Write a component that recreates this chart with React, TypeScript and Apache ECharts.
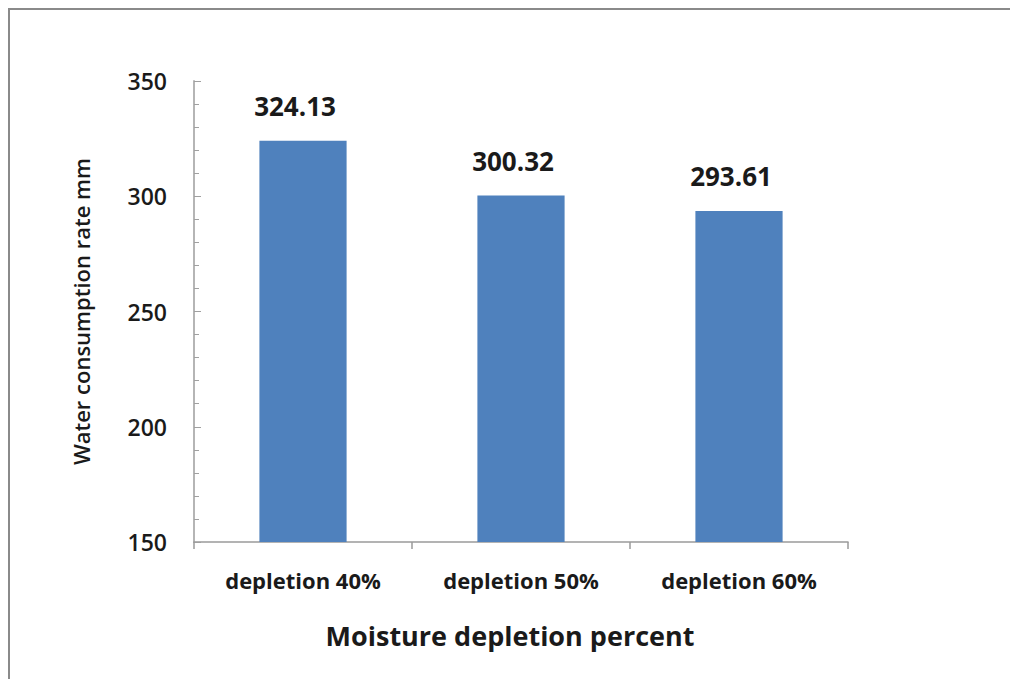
import React, { useEffect, useRef } from "react";
import * as echarts from "echarts";

const categories = ["depletion 40%", "depletion 50%", "depletion 60%"];
const values = [324.13, 300.32, 293.61];
const yTicks = { min: 150, max: 350, interval: 50 };
const xAxisTitle = "Moisture depletion percent";
const yAxisTitle = "Water consumption rate mm";

const FONT = "'Open Sans', 'Noto Sans', sans-serif";

export default function App() {
  const ref = useRef<HTMLDivElement>(null);
  useEffect(() => {
    if (!ref.current) return;
    const chart = echarts.init(ref.current, undefined, { renderer: "svg" });
    chart.setOption({
      animation: false,
      backgroundColor: "#ffffff",
      textStyle: { fontFamily: FONT },
      grid: { left: 194, right: 162, top: 81, bottom: 137, containLabel: false },
      graphic: [
        {
          type: "rect",
          shape: { x: 9, y: 9, width: 1100, height: 800 },
          style: { fill: "none", stroke: "#8a8a8a", lineWidth: 2 },
          silent: true,
        },
      ],
      xAxis: {
        type: "category",
        data: categories,
        boundaryGap: true,
        axisLine: { lineStyle: { color: "#9a9a9a", width: 1.5 } },
        axisTick: { show: true, alignWithLabel: false, length: 7, inside: false, lineStyle: { color: "#9a9a9a", width: 1.5 } },
        axisLabel: { color: "#1a1a1a", fontSize: 22, fontWeight: "bold", fontFamily: FONT, margin: 27 },
        name: xAxisTitle,
        nameLocation: "middle",
        nameGap: 80,
        nameTextStyle: { color: "#1a1a1a", fontSize: 27, fontWeight: "bold", fontFamily: FONT, padding: [0, 22, 0, 0] },
      },
      yAxis: {
        type: "value",
        min: yTicks.min,
        max: yTicks.max,
        interval: yTicks.interval,
        splitLine: { show: false },
        axisLine: { show: true, lineStyle: { color: "#b5b5b5", width: 2 } },
        axisTick: { show: true, inside: true, length: 7, lineStyle: { color: "#a0a0a0", width: 1 } },
        minorTick: { show: true, splitNumber: 5, length: 5, lineStyle: { color: "#a0a0a0", width: 1 } },
        axisLabel: { color: "#1a1a1a", fontSize: 23, fontWeight: 600, fontFamily: FONT, margin: 27 },
        name: yAxisTitle,
        nameLocation: "middle",
        nameGap: 102,
        nameRotate: 90,
        nameTextStyle: { color: "#1a1a1a", fontSize: 22, fontWeight: 600, fontFamily: FONT },
      },
      series: [
        {
          type: "bar",
          data: values,
          barWidth: "40%",
          itemStyle: { color: "#4f81bd" },
          label: {
            show: true,
            position: "top",
            distance: 22,
            offset: [-8, 0],
            color: "#1a1a1a",
            fontSize: 26,
            fontWeight: "bold",
            fontFamily: FONT,
            formatter: (p: any) => p.value.toFixed(2),
          },
        },
      ],
    });
    return () => chart.dispose();
  }, []);
  return (
    <div
      ref={ref}
      style={{ position: "absolute", left: 0, top: 0, width: 1010, height: 679 }}
    />
  );
}
